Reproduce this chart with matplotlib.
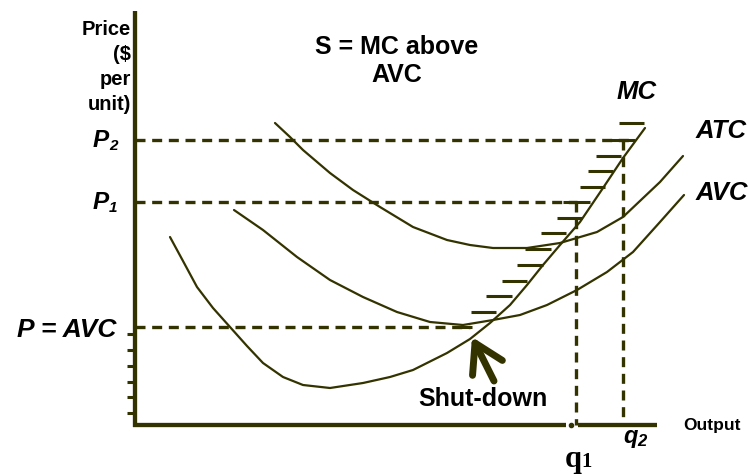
import matplotlib
matplotlib.use('Agg')
import matplotlib.pyplot as plt

# ── Schematic curves (pixel space, y grows downward) ──
mc_x = [170, 183, 197, 213, 230, 247, 263, 283, 303, 330, 363, 390, 413, 447, 470,
        490, 510, 527, 543, 560, 580, 603, 623, 645]
mc_y = [237, 261, 287, 308, 327, 346, 363, 377, 385, 388, 383, 377, 370, 353, 339,
        323, 305, 285, 265, 245, 222, 188, 158, 128]

atc_x = [275, 290, 303, 330, 353, 380, 413, 447, 470, 493, 527, 560, 597, 623, 660, 683]
atc_y = [123, 137, 150, 173, 190, 207, 227, 240, 245, 248, 248, 243, 232, 217, 182, 156]

avc_x = [234, 263, 297, 330, 363, 397, 430, 463, 493, 520, 547, 577, 607, 633, 660, 684]
avc_y = [210, 230, 257, 280, 297, 312, 322, 325, 320, 315, 305, 290, 272, 252, 222, 195]

# supply-curve hatching (short strokes left of MC)
hatch_y = [123, 140, 156, 171, 187, 202, 218, 233, 249, 265, 281, 296, 312, 327]
hatch_x0 = [619, 610, 596, 588, 580, 563, 557, 541, 525, 517, 502, 486, 471, 458]
hatch_x1 = [644, 635, 621, 613, 605, 590, 582, 566, 551, 543, 527, 512, 496, 472]

# price / quantity guide levels
price_y = {"P2": 140, "P1": 202, "PAVC": 327}
price_end = {"P2": 635, "P1": 577, "PAVC": 470}
q_x = {"q1": 576, "q2": 623}
q_top = {"q1": 202, "q2": 140}

tick_y = [334, 350, 366, 382, 397, 413]
price_lines = ["Price", "(\\$", "per", "unit)"]

# axes geometry
y_axis_x = 135
y_axis_top = 11
x_axis_y = 425
x_axis_end = 657
x_axis_break = (566, 578)

shut_tip = (472, 337)
shut_tail = (494, 381)

COL = "#333300"
plt.rcParams['lines.scale_dashes'] = False
plt.rcParams['font.family'] = ['Liberation Sans', 'DejaVu Sans']
DASH = (0, (7.2, 4.8))

fig = plt.figure(figsize=(7.49, 4.74), dpi=100)
ax = fig.add_axes([0, 0, 1, 1])
ax.set_xlim(0, 749)
ax.set_ylim(474, 0)
ax.axis('off')

# ── guide lines ──
for k in price_y:
    ax.hlines(price_y[k], y_axis_x, price_end[k], colors=COL, lw=2.4, linestyles=DASH)
for k in q_x:
    ax.vlines(q_x[k], q_top[k], x_axis_y, colors=COL, lw=2.4, linestyles=DASH)

# ── hatching ──
ax.hlines(hatch_y, hatch_x0, hatch_x1, colors=COL, lw=2.2)

# ── cost curves ──
for xs, ys in [(mc_x, mc_y), (atc_x, atc_y), (avc_x, avc_y)]:
    ax.plot(xs, ys, color=COL, lw=1.6, solid_joinstyle='round', solid_capstyle='round')

# ── axes ──
ax.vlines(y_axis_x, y_axis_top, x_axis_y + 2, colors=COL, lw=3.1)
ax.hlines(x_axis_y, y_axis_x - 2, x_axis_break[0], colors=COL, lw=3.1)
ax.hlines(x_axis_y, x_axis_break[1], x_axis_end, colors=COL, lw=3.1)
ax.plot([(x_axis_break[0] + x_axis_break[1]) / 2 - 1], [x_axis_y], 'o', color=COL, ms=3)
ax.hlines(tick_y, y_axis_x - 8, y_axis_x, colors=COL, lw=2.2)

# ── shut-down arrow ──
ax.annotate("", xy=shut_tip, xytext=shut_tail,
            arrowprops=dict(arrowstyle="->, head_length=1.0, head_width=0.6",
                            color=COL, lw=5, mutation_scale=20,
                            shrinkA=0, shrinkB=0, capstyle='round'))

# ── labels ──
for i, s in enumerate(price_lines):
    ax.text(131, 35 + 25 * i, s, ha='right', va='baseline', fontsize=14.5, fontweight='bold')

ax.text(397, 54, "S = MC above", ha='center', va='baseline', fontsize=18, fontweight='bold')
ax.text(397, 82, "AVC", ha='center', va='baseline', fontsize=18, fontweight='bold')

bi = dict(fontweight='bold', fontstyle='italic', va='baseline')
ax.text(109, 147, "P", ha='right', fontsize=17.5, **bi)
ax.text(109, 150, "2", ha='left', fontsize=11, **bi)
ax.text(109, 209, "P", ha='right', fontsize=17.5, **bi)
ax.text(109, 212, "1", ha='left', fontsize=11, **bi)
ax.text(116, 337, "P = AVC", ha='right', fontsize=19, **bi)

ax.text(617, 99, "MC", ha='left', fontsize=18.5, **bi)
ax.text(696, 138, "ATC", ha='left', fontsize=18.5, **bi)
ax.text(696, 200, "AVC", ha='left', fontsize=18.5, **bi)

ax.text(418, 406, "Shut-down", ha='left', va='baseline', fontsize=18, fontweight='bold')
ax.text(683, 430, "Output", ha='left', va='baseline', fontsize=12.5, fontweight='bold')

ax.text(623, 443, "q", ha='left', fontsize=17, **bi)
ax.text(637, 446, "2", ha='left', fontsize=12, **bi)
ax.text(565, 467, "q", ha='left', va='baseline', fontsize=22, fontweight='bold',
        family=['Liberation Serif', 'DejaVu Serif'])
ax.text(581, 467, "1", ha='left', va='baseline', fontsize=15, fontweight='bold',
        family=['Liberation Serif', 'DejaVu Serif'])

fig.savefig("out.png", dpi=100)
plt.close(fig)
